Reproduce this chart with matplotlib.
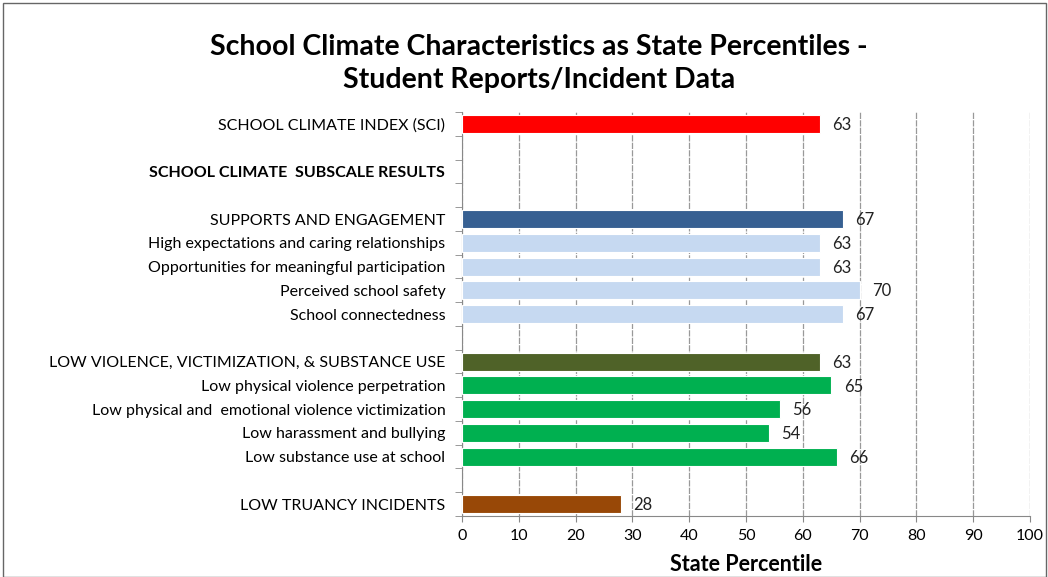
import matplotlib.pyplot as plt
from matplotlib.patches import Rectangle
import numpy as np

plt.rcParams['font.family'] = ['Lato', 'DejaVu Sans']

labels = ['SCHOOL CLIMATE INDEX (SCI)', '', 'SCHOOL CLIMATE  SUBSCALE RESULTS', '',
          'SUPPORTS AND ENGAGEMENT',
          'High expectations and caring relationships',
          'Opportunities for meaningful participation',
          'Perceived school safety',
          'School connectedness', '',
          'LOW VIOLENCE, VICTIMIZATION, & SUBSTANCE USE',
          'Low physical violence perpetration',
          'Low physical and  emotional violence victimization',
          'Low harassment and bullying',
          'Low substance use at school', '',
          'LOW TRUANCY INCIDENTS']
values = [63, None, None, None, 67, 63, 63, 70, 67, None, 63, 65, 56, 54, 66, None, 28]
colors = ['#FF0000', None, None, None, '#376092', '#C6D9F1', '#C6D9F1', '#C6D9F1', '#C6D9F1', None,
          '#4F6228', '#00B050', '#00B050', '#00B050', '#00B050', None, '#984807']


def main():
    fig = plt.figure(figsize=(10.48, 5.77), dpi=100)
    ax = fig.add_axes([0.4408, 0.1057, 0.542, 0.700])

    n = len(labels)
    ypos = np.arange(n)
    for y, v, c in zip(ypos, values, colors):
        if v is None:
            continue
        ax.barh(y, v, height=0.76, color=c, edgecolor='white', linewidth=0.8, zorder=3)
        ax.text(v + 2.2, y + 0.05, str(v), va='center', ha='left', fontsize=12, color='#222222')

    ax.set_ylim(n - 0.5, -0.5)
    ax.set_xlim(0, 100)
    ax.set_yticks(ypos)
    ax.set_yticklabels(labels, fontsize=11.5)
    ax.tick_params(axis='y', length=0, pad=12)
    for lab in ax.get_yticklabels():
        if lab.get_text().startswith('SCHOOL CLIMATE  SUB'):
            lab.set_fontweight('bold')
    ax.set_yticks(np.arange(n + 1) - 0.5, minor=True)
    ax.tick_params(axis='y', which='minor', length=5, direction='out', color='#888888')

    ax.set_xticks(range(0, 101, 10))
    ax.tick_params(axis='x', labelsize=11.5, length=4, color='#888888', pad=5)
    ax.xaxis.grid(True, linestyle=(0, (5, 1)), color='#999999', linewidth=0.9, zorder=0)
    ax.set_axisbelow(True)
    ax.set_xlabel('State Percentile', fontsize=15.5, fontweight='bold', labelpad=8)

    for s in ['top', 'right']:
        ax.spines[s].set_visible(False)
    for s in ['left', 'bottom']:
        ax.spines[s].set_color('#888888')

    fig.text(0.514, 0.918, 'School Climate Characteristics as State Percentiles -',
             ha='center', va='center', fontsize=20.5, fontweight='bold')
    fig.text(0.514, 0.862, 'Student Reports/Incident Data',
             ha='center', va='center', fontsize=20.5, fontweight='bold')

    fig.patches.append(Rectangle((0.003, 0.0), 0.995, 0.995, transform=fig.transFigure,
                                 fill=False, edgecolor='#666666', linewidth=1))

    plt.savefig('out.png', dpi=100)


if __name__ == "__main__":
    main()
